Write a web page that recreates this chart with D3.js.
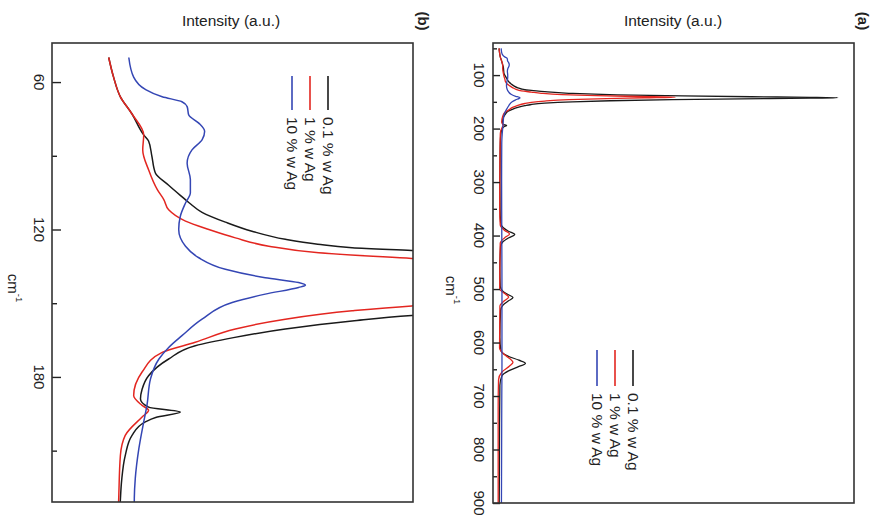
<!DOCTYPE html>
<html>
<head>
<meta charset="utf-8">
<script src="https://cdn.jsdelivr.net/npm/d3@7"></script>
<style>
  html, body { margin: 0; padding: 0; background: #fff; }
  svg { display: block; font-family: "Liberation Sans", Arial, sans-serif; }
</style>
</head>
<body>
<svg id="chart" width="886" height="523"></svg>
<script>
// ---------- data: [wavenumber (cm^-1), intensity (a.u.)] ----------
const seriesNames = ["0.1 % w Ag", "1 % w Ag", "10 % w Ag"];
const seriesColors = ["#1a1a1a", "#e32620", "#3446b4"];

const ag01 = [[50,1.75],[58,1.9],[66,2.11],[73,2.47],[81.5,2.83],[84,2.98],[90,3.08],[97,3.19],[102,3.6],[106,3.95],[109,4.22],[113,4.63],[117,5.35],[120.7,6.17],[124,7.2],[126,8.2],[127.4,9.26],[128.5,11.1],[131,15],[134,22],[137,36],[139,55],[140.5,75],[141.5,92],[142.3,100],[143.2,92],[144.5,72],[146,52],[148,34],[150,23],[152.5,15],[155,11.1],[157.2,9.26],[160.5,7.2],[164,5.6],[167.3,4.42],[172.7,3.6],[179.5,2.98],[185,2.78],[189,2.73],[192.3,2.98],[194.3,3.96],[196.5,3.2],[198.3,2.88],[203.8,2.47],[212,2.26],[222,2.15],[230,2.11],[260,2.05],[300,2.0],[350,2.05],[375,2.2],[385,2.9],[392,4.5],[398,6.3],[404,4.6],[412,2.8],[420,2.2],[460,2.0],[495,2.1],[505,3.0],[511,4.6],[516,5.8],[522,4.5],[530,2.9],[540,2.2],[590,2.0],[615,2.3],[625,4.2],[633,7.5],[639,9.4],[645,7.4],[653,4.5],[662,2.6],[680,2.0],[750,1.9],[850,1.85],[900,1.8]];

const ag1 = [[50,1.75],[58,1.9],[66,2.11],[73,2.47],[81.5,2.83],[87.6,2.8],[95.7,2.98],[103.8,3.25],[107.8,3.45],[112,3.6],[116.6,4.12],[120,4.84],[123.4,5.66],[126.8,6.69],[129.5,8.23],[131.8,11.1],[134,14],[136.5,20],[138.5,30],[140,42],[141.3,52.8],[142.6,44],[144,33],[146,22],[148.5,15],[151.1,11.1],[153.1,9.26],[156.5,7.2],[160.5,5.66],[165.9,4.42],[170,3.4],[178,2.78],[187.6,2.52],[191.6,2.78],[193.6,2.98],[196.3,2.78],[203.8,2.26],[212,2.11],[229,2.06],[260,2.0],[350,1.95],[380,2.1],[390,3.3],[397,4.8],[404,3.4],[414,2.1],[500,1.95],[508,3.3],[515,4.55],[522,3.3],[532,2.0],[610,1.9],[622,3.2],[632,5.2],[637,5.8],[644,4.8],[655,2.6],[670,1.6],[720,1.5],[800,1.5],[900,1.5]];

const ag10 = [[50,2.37],[58,2.52],[63,2.88],[66,3.4],[68,4.01],[70,4.17],[73.4,4.22],[76.7,4.53],[80.1,4.71],[83.5,4.63],[87.6,4.32],[93,4.17],[99.7,4.27],[105,4.27],[109.2,4.12],[114.6,3.96],[120,3.91],[126.8,4.12],[131.5,4.53],[136.2,5.35],[139.6,6.58],[141.6,7.61],[142.7,7.82],[143.6,7.61],[146.3,6.58],[149.7,5.56],[156.5,4.63],[163.2,4.01],[168,3.6],[172.7,3.3],[180.8,3.04],[191.6,2.93],[198.3,2.83],[209.2,2.68],[221.3,2.57],[229.4,2.54],[300,2.5],[400,2.55],[500,2.6],[640,2.6],[700,2.55],[800,2.5],[900,2.45]];

const allSeries = [ag01, ag1, ag10];

// tick labels
const ticksB = [60, 120, 180];
const minorB = [90, 150, 210];
const ticksA = [100, 200, 300, 400, 500, 600, 700, 800, 900];
const minorA = [50, 150, 250, 350, 450, 550, 650, 750, 850];

// ---------- drawing ----------
const svg = d3.select("#chart");
const defs = svg.append("defs");

function drawPanel(cfg) {
  const g = svg.append("g");
  const x = d3.scaleLinear().domain(cfg.iDomain).range([cfg.left, cfg.right]);
  const y = d3.scaleLinear().domain(cfg.cmDomain).range([cfg.top, cfg.bottom]);

  defs.append("clipPath").attr("id", cfg.id + "-clip")
    .append("rect")
    .attr("x", cfg.left).attr("y", cfg.top)
    .attr("width", cfg.right - cfg.left).attr("height", cfg.bottom - cfg.top);

  const line = d3.line()
    .x(d => x(d[1]))
    .y(d => y(d[0]))
    .curve(d3.curveMonotoneY);

  const curves = g.append("g").attr("clip-path", `url(#${cfg.id}-clip)`);
  allSeries.forEach((s, i) => {
    curves.append("path")
      .datum(s)
      .attr("d", line)
      .attr("fill", "none")
      .attr("stroke", seriesColors[i])
      .attr("stroke-width", cfg.lw)
      .attr("stroke-linejoin", "round");
  });

  // ticks (inward)
  const majorAxis = d3.axisLeft(y).tickValues(cfg.ticks).tickSize(-cfg.majorLen).tickFormat("");
  const minorAxis = d3.axisLeft(y).tickValues(cfg.minor).tickSize(-cfg.minorLen).tickFormat("");
  [majorAxis, minorAxis].forEach(ax => {
    const a = g.append("g").attr("transform", `translate(${cfg.left},0)`).call(ax);
    a.select(".domain").remove();
    a.selectAll("line").attr("stroke", "#222").attr("stroke-width", 1.4);
  });

  // tick labels, rotated
  g.append("g").selectAll("text").data(cfg.ticks).join("text")
    .attr("transform", d => `translate(${cfg.labelX},${y(d)}) rotate(90)`)
    .attr("text-anchor", "middle")
    .attr("dominant-baseline", "central")
    .attr("font-size", 15)
    .attr("fill", "#222")
    .text(d => d);

  // axis unit
  const unit = g.append("text")
    .attr("transform", `translate(${cfg.unitX},${cfg.unitY}) rotate(90)`)
    .attr("text-anchor", "middle")
    .attr("dominant-baseline", "central")
    .attr("font-size", 15)
    .attr("fill", "#222");
  unit.append("tspan").text("cm");
  unit.append("tspan").attr("font-size", 9.5).attr("dy", -6).text("-1");

  // frame
  g.append("rect")
    .attr("x", cfg.left).attr("y", cfg.top)
    .attr("width", cfg.right - cfg.left).attr("height", cfg.bottom - cfg.top)
    .attr("fill", "none").attr("stroke", "#333").attr("stroke-width", 1.6);

  // title
  g.append("text")
    .attr("x", cfg.titleX).attr("y", 20)
    .attr("text-anchor", "middle")
    .attr("dominant-baseline", "central")
    .attr("font-size", 15.5)
    .attr("fill", "#222")
    .text("Intensity (a.u.)");

  // panel letter
  g.append("text")
    .attr("transform", `translate(${cfg.letterX},21) rotate(90)`)
    .attr("text-anchor", "middle")
    .attr("dominant-baseline", "central")
    .attr("font-size", 15)
    .attr("font-weight", "bold")
    .attr("fill", "#222")
    .text(cfg.letter);

  // legend
  const leg = g.append("g");
  seriesNames.forEach((name, i) => {
    const lx = cfg.legX - i * 18;
    leg.append("line")
      .attr("x1", lx).attr("x2", lx)
      .attr("y1", cfg.legY0).attr("y2", cfg.legY1)
      .attr("stroke", seriesColors[i]).attr("stroke-width", 1.6);
    leg.append("text")
      .attr("transform", `translate(${lx},${cfg.legY1 + 7}) rotate(90)`)
      .attr("text-anchor", "start")
      .attr("dominant-baseline", "central")
      .attr("font-size", 15.5)
      .attr("fill", "#222")
      .text(name);
  });
}

drawPanel({
  id: "b", letter: "(b)",
  left: 52, right: 413, top: 43, bottom: 502,
  iDomain: [0, 11.14], cmDomain: [44.1, 230.9],
  ticks: ticksB, minor: minorB, majorLen: 9, minorLen: 5,
  labelX: 39, unitX: 14, unitY: 288,
  titleX: 231, letterX: 423,
  legX: 328, legY0: 76, legY1: 110,
  lw: 1.5
});

drawPanel({
  id: "a", letter: "(a)",
  left: 493, right: 854, top: 43, bottom: 503,
  iDomain: [0, 104.7], cmDomain: [40, 900],
  ticks: ticksA, minor: minorA, majorLen: 7, minorLen: 4,
  labelX: 479, unitX: 452, unitY: 290,
  titleX: 673, letterX: 863,
  legX: 633, legY0: 350, legY1: 386,
  lw: 1.3
});
</script>
</body>
</html>
